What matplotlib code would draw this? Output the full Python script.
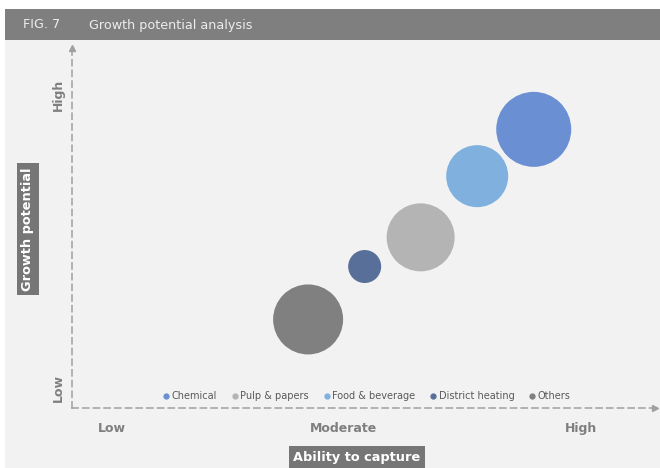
import matplotlib
matplotlib.use("Agg")
import matplotlib.pyplot as plt
from matplotlib.patches import Rectangle
from matplotlib.lines import Line2D
import numpy as np

# ---- data ----
segments = ["Chemical", "Pulp & papers", "Food & beverage", "District heating", "Others"]
ability = [7.92, 5.98, 6.95, 5.02, 4.05]          # x: ability to capture (0-10)
growth = [7.74, 4.74, 6.44, 3.93, 2.46]           # y: growth potential (0-10)
bubble_radius = [37.5, 34, 31, 16.5, 35]          # relative market size
colors = ["#6a8fd3", "#b4b4b4", "#7fb0de", "#586f99", "#808080"]
x_ticks = [0.69, 4.65, 8.73]
x_labels = ["Low", "Moderate", "High"]
y_ticks = [0.56, 8.7]
y_labels = ["Low", "High"]

W, H = 660, 468
fig = plt.figure(figsize=(W / 100, H / 100), dpi=100, facecolor="white")

def fx(px):
    return px / W

def fy(py):
    return 1 - py / H

# panel background and title band
fig.patches.append(Rectangle((fx(5), 0), 1 - fx(5), fy(9), transform=fig.transFigure,
                             facecolor="#f2f2f2", edgecolor="none", zorder=-3))
fig.patches.append(Rectangle((fx(5), fy(40)), 1 - fx(5), fy(9) - fy(40), transform=fig.transFigure,
                             facecolor="#7f7f7f", edgecolor="none", zorder=-2))
fig.text(fx(23), fy(25), "FIG. 7", color="#ededed", fontsize=9.2, va="center", ha="left")
fig.text(fx(89), fy(25), "Growth potential analysis", color="#ededed", fontsize=9.2,
         va="center", ha="left")

# axes
x0, x1, yb, yt = 72, 655, 408, 48
ax = fig.add_axes([fx(x0), fy(yb), fx(x1) - fx(x0), fy(yt) - fy(yb)])
ax.set_facecolor("none")
ax.set_zorder(2)
ax.set_xlim(0, 10)
ax.set_ylim(0, 10)

sizes = [(2 * r * 0.72) ** 2 for r in bubble_radius]
for name, xv, yv, s, c in zip(segments, ability, growth, sizes, colors):
    ax.scatter(xv, yv, s=s, color=c, edgecolors="none", zorder=3, label=name)

for sp in ["top", "right"]:
    ax.spines[sp].set_visible(False)
for sp in ["left", "bottom"]:
    ax.spines[sp].set_color("#a0a0a0")
    ax.spines[sp].set_linestyle((0, (4, 3)))
    ax.spines[sp].set_linewidth(1.1)
ax.plot([1], [0], marker=">", color="#a0a0a0", markersize=4.5, transform=ax.transAxes, clip_on=False)
ax.plot([0], [1], marker="^", color="#a0a0a0", markersize=4.5, transform=ax.transAxes, clip_on=False)

ax.set_xticks(x_ticks)
ax.set_xticklabels(x_labels, fontsize=9, fontweight="bold", color="#7f7f7f")
ax.set_yticks(y_ticks)
ax.set_yticklabels(y_labels, fontsize=9, fontweight="bold", color="#7f7f7f",
                   rotation=90, va="center")
ax.tick_params(axis="both", length=0)
ax.tick_params(axis="x", pad=10)
ax.tick_params(axis="y", pad=5)

# legend
handles = [Line2D([], [], marker="o", linestyle="none", color=c, markersize=3.5) for c in colors]
ax.legend(handles, segments, loc="center", bbox_to_anchor=(0.505, 0.033), ncol=5, frameon=False,
          fontsize=7, handletextpad=0.15, columnspacing=1.45, labelcolor="#595959",
          handlelength=0.8, borderpad=0)

# boxed axis titles
fig.text(fx(28), fy(229), "Growth potential", rotation=90, color="white", fontsize=9.3,
         fontweight="bold", ha="center", va="center",
         bbox=dict(boxstyle="square,pad=0.35", facecolor="#767676", edgecolor="none"))
fig.text(fx(357), fy(457), "Ability to capture", color="white", fontsize=9.3,
         fontweight="bold", ha="center", va="center",
         bbox=dict(boxstyle="square,pad=0.35", facecolor="#767676", edgecolor="none"))

fig.savefig("out.png", dpi=100, facecolor="white")
